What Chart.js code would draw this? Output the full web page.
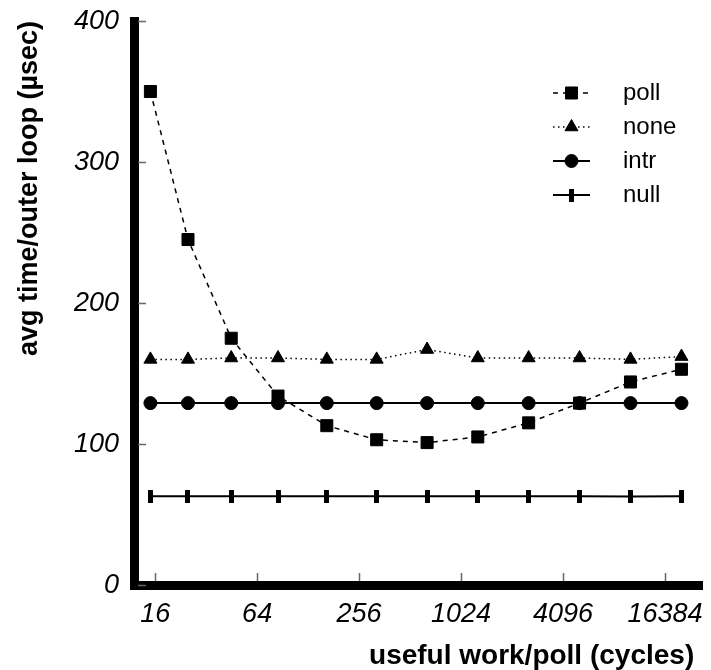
<!DOCTYPE html>
<html>
<head>
<meta charset="utf-8">
<script src="https://cdn.jsdelivr.net/npm/chart.js@4/dist/chart.umd.min.js"></script>
<style>
  body { margin: 0; background: #fff; }
  #wrap { width: 711px; height: 670px; position: relative; }
</style>
</head>
<body>
<div id="wrap"><canvas id="poll-chart"></canvas></div>
<script>
// useful work per poll (cycles) and avg time per outer loop (usec)
var workCycles = [15, 25, 45, 85, 165, 325, 645, 1285, 2565, 5125, 10245, 20485];
var pollTimes  = [350, 245, 175, 134, 113, 103, 101, 105, 115, 129, 144, 153];
var noneTimes  = [160, 160, 161, 161, 160, 160, 167, 161, 161, 161, 160, 162];
var intrTimes  = [129, 129, 129, 129, 129, 129, 129, 129, 129, 129, 129, 129];
var nullTimes  = [63, 63, 63, 63, 63, 63, 63, 63, 63, 63, 62.7, 63];
var xTickVals  = [16, 64, 256, 1024, 4096, 16384];
var yTickVals  = [0, 100, 200, 300, 400];

var FONT = "'Liberation Sans', Arial, Helvetica, sans-serif";

function toPoints(vals) {
    return vals.map(function (v, i) { return { x: workCycles[i], y: v }; });
}

// the "null" marker is a short thick vertical bar
var barMark = document.createElement('canvas');
barMark.width = 5;
barMark.height = 13;
(function () {
    var c = barMark.getContext('2d');
    c.fillStyle = '#000';
    c.fillRect(0, 0, 5, 13);
})();

// small tick marks pointing into the plot
var innerTicks = {
    id: 'innerTicks',
    beforeDatasetsDraw: function (chart) {
        var ctx = chart.ctx, a = chart.chartArea;
        var xs = chart.scales.x, ys = chart.scales.y;
        ctx.save();
        ctx.strokeStyle = '#666';
        ctx.lineWidth = 1.5;
        ctx.beginPath();
        xTickVals.forEach(function (v) {
            var px = Math.round(xs.getPixelForValue(v)) + 0.5;
            ctx.moveTo(px, a.bottom - 4);
            ctx.lineTo(px, a.bottom - 12);
        });
        yTickVals.forEach(function (v) {
            var py = Math.round(ys.getPixelForValue(v)) + 0.5;
            ctx.moveTo(a.left + 4, py);
            ctx.lineTo(a.left + 12, py);
        });
        ctx.stroke();
        ctx.restore();
    }
};

// legend with line sample + marker, like the original plot
var lineLegend = {
    id: 'lineLegend',
    afterDraw: function (chart) {
        var ctx = chart.ctx;
        var x0 = 553, x1 = 590, xm = 571.5, tx = 623, y = 93, step = 34;
        chart.data.datasets.forEach(function (ds) {
            ctx.save();
            ctx.strokeStyle = ds.borderColor;
            ctx.lineWidth = ds.borderWidth;
            ctx.setLineDash(ds.borderDash || []);
            ctx.beginPath();
            ctx.moveTo(x0, y);
            ctx.lineTo(x1, y);
            ctx.stroke();
            ctx.setLineDash([]);
            ctx.fillStyle = ds.pointBackgroundColor;
            ctx.strokeStyle = ds.pointBorderColor;
            ctx.lineWidth = ds.pointBorderWidth;
            Chart.helpers.drawPoint(ctx, {
                pointStyle: ds.pointStyle,
                radius: ds.pointRadius,
                rotation: 0,
                borderWidth: ds.pointBorderWidth
            }, xm, y);
            ctx.fillStyle = '#000';
            ctx.font = '24px ' + FONT;
            ctx.textAlign = 'left';
            ctx.textBaseline = 'middle';
            ctx.fillText(ds.label, tx, y);
            ctx.restore();
            y += step;
        });
    }
};

var ctx = document.getElementById('poll-chart');

var chartData = {
    datasets: [{
        label: 'poll',
        data: toPoints(pollTimes),
        borderColor: '#000',
        borderWidth: 1.5,
        borderDash: [5, 5],
        pointStyle: 'rect',
        pointRadius: 8.5,
        pointBackgroundColor: '#000',
        pointBorderColor: '#000',
        pointBorderWidth: 1
    }, {
        label: 'none',
        data: toPoints(noneTimes),
        borderColor: '#000',
        borderWidth: 1.5,
        borderDash: [1.5, 3.5],
        pointStyle: 'triangle',
        pointRadius: 7.5,
        pointBackgroundColor: '#000',
        pointBorderColor: '#000',
        pointBorderWidth: 1
    }, {
        label: 'intr',
        data: toPoints(intrTimes),
        borderColor: '#000',
        borderWidth: 2,
        pointStyle: 'circle',
        pointRadius: 6.5,
        pointBackgroundColor: '#000',
        pointBorderColor: '#000',
        pointBorderWidth: 1
    }, {
        label: 'null',
        data: toPoints(nullTimes),
        borderColor: '#000',
        borderWidth: 2,
        pointStyle: barMark,
        pointRadius: 6.5,
        pointBackgroundColor: '#000',
        pointBorderColor: '#000',
        pointBorderWidth: 0
    }]
};

var chartOptions = {
    responsive: true,
    maintainAspectRatio: false,
    animation: false,
    events: [],
    layout: { autoPadding: false, padding: { top: 21, right: 9, left: 0, bottom: 0 } },
    plugins: {
        legend: { display: false },
        tooltip: { enabled: false }
    },
    elements: { line: { tension: 0, fill: false } },
    scales: {
        x: {
            type: 'logarithmic',
            min: 12,
            max: 27080,
            afterBuildTicks: function (scale) {
                scale.ticks = xTickVals.map(function (v) { return { value: v }; });
            },
            afterFit: function (scale) {
                scale.height = 85;
                scale.paddingLeft = 0;
                scale.paddingRight = 0;
            },
            grid: { display: false, drawTicks: false },
            border: { display: true, color: '#000', width: 9 },
            ticks: {
                autoSkip: false,
                maxRotation: 0,
                padding: 13,
                color: '#000',
                font: { family: FONT, size: 27, style: 'italic' },
                callback: function (v) { return String(v); }
            },
            title: {
                display: true,
                text: 'useful work/poll (cycles)\u00a0',
                align: 'end',
                color: '#000',
                padding: 0,
                font: { family: FONT, size: 28, weight: 'bold', lineHeight: 1 }
            }
        },
        y: {
            min: 0,
            max: 400,
            afterBuildTicks: function (scale) {
                scale.ticks = yTickVals.map(function (v) { return { value: v }; });
            },
            afterFit: function (scale) {
                scale.width = 134;
                scale.paddingTop = 0;
                scale.paddingBottom = 0;
            },
            grid: { display: false, drawTicks: false },
            border: { display: true, color: '#000', width: 9 },
            ticks: {
                padding: 15,
                color: '#000',
                font: { family: FONT, size: 27, style: 'italic' }
            },
            title: {
                display: true,
                text: 'avg time/outer loop (\u00b5sec)',
                align: 'end',
                color: '#000',
                padding: { top: 16, bottom: 0 },
                font: { family: FONT, size: 27, weight: 'bold', lineHeight: 1 }
            }
        }
    }
};

var config = {
    type: 'line',
    data: chartData,
    options: chartOptions,
    plugins: [innerTicks, lineLegend]
};

var pollChart = new Chart(ctx, config);
</script>
</body>
</html>
